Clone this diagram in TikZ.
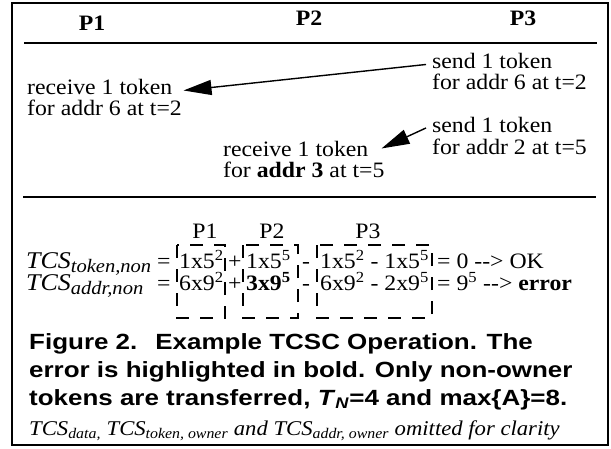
\documentclass[tikz,border=0pt]{standalone}
\usepackage{fontspec}
\setmainfont{Liberation Serif}[FakeStretch=1.08]
\newfontfamily\capfont{Liberation Sans}[FakeStretch=1.18]
\usetikzlibrary{arrows.meta}
\newcommand\arrowtxt{-{}-{}>}
\newcommand\lblsub[1]{\raisebox{-0.2em}{\fontsize{19}{19}\selectfont #1}}
\begin{document}
\begin{tikzpicture}[x=1pt,y=-1pt,
  txt/.style={inner sep=0pt, anchor=base west, font=\fontsize{22}{21.5}\selectfont},
  ptxt/.style={inner sep=0pt, anchor=base, font=\fontsize{22}{21.5}\selectfont},
  lbl/.style={inner sep=0pt, anchor=base west, font=\fontsize{24}{24}\selectfont\itshape},
  hdr/.style={inner sep=0pt, anchor=base, font=\fontsize{22}{22}\selectfont\bfseries},
  capt/.style={inner sep=0pt, anchor=base west, font=\capfont\fontsize{22}{28}\selectfont\bfseries},
  notetxt/.style={inner sep=0pt, anchor=base west, font=\fontsize{21}{21}\selectfont\itshape},
  rulel/.style={line width=2pt},
  arr/.style={line width=1.4pt, -{Triangle[length=28pt,width=15pt]}},
  dbox/.style={line width=2pt, dash pattern=on 13pt off 11pt}]
\useasboundingbox (0,0) rectangle (611,448);
\draw[rulel] (12,3) rectangle (608,445);
\draw[rulel] (24,43) -- (597,43);
\draw[rulel] (23,197) -- (596,197);
% headers
\node[hdr] (h1) at (92,30) {P1};
\node[hdr] (h2) at (309,25) {P2};
\node[hdr] (h3) at (523,25) {P3};
% messages
\node[txt] (s1a) at (432,68) {send 1 token};
\node[txt] (s1b) at (432,89.5) {for addr 6 at t=2};
\node[txt] (r1a) at (27,94) {receive 1 token};
\node[txt] (r1b) at (27,115.5) {for addr 6 at t=2};
\node[txt] (s2a) at (432,132.5) {send 1 token};
\node[txt] (s2b) at (432,154) {for addr 2 at t=5};
\node[txt] (r2a) at (223,156) {receive 1 token};
\node[txt] (r2b) at (223,177.5) {for \textbf{addr 3} at t=5};
\draw[arr] ([shift={(-6,4)}]s1a.west) -- ([shift={(11,4)}]r1a.east);
\draw[arr] ([shift={(-6,3)}]s2a.west) -- ([shift={(13,0)}]r2a.east);
% checksum formulas
\node[ptxt] (p1) at (205,238) {P1};
\node[ptxt] (p2) at (272,238) {P2};
\node[ptxt] (p3) at (368,238) {P3};
\draw[dbox] (177,245) rectangle (225,318);
\draw[dbox] (243,245) rectangle (298,318);
\draw[dbox] (317,245) rectangle (432,318);
\node[lbl] (f1l) at (26,268) {TCS\lblsub{token,non}};
\node[txt] (f1e) at (157,268) {=};
\node[txt] (f1a) at (179,268) {1x5\textsuperscript{2}};
\node[txt] (f1p) at (228,268) {+};
\node[txt] (f1b) at (246,268) {1x5\textsuperscript{5}};
\node[txt] (f1m) at (302,268) {-};
\node[txt] (f1c) at (320,268) {1x5\textsuperscript{2} - 1x5\textsuperscript{5}};
\node[txt] (f1r) at (437,268) {= 0 \arrowtxt{} OK};
\node[lbl] (f2l) at (26,290) {TCS\lblsub{addr,non}};
\node[txt] (f2e) at (157,290) {=};
\node[txt] (f2a) at (179,290) {6x9\textsuperscript{2}};
\node[txt] (f2p) at (228,290) {+};
\node[txt] (f2b) at (246,290) {\textbf{3x9\textsuperscript{5}}};
\node[txt] (f2m) at (302,290) {-};
\node[txt] (f2c) at (320,290) {6x9\textsuperscript{2} - 2x9\textsuperscript{5}};
\node[txt] (f2r) at (437,290) {= 9\textsuperscript{5} \arrowtxt{} \textbf{error}};
% caption
\node[capt] (c1) at (29,349) {Figure 2.\hspace{18pt}Example TCSC Operation. The};
\node[capt] (c2) at (29,377) {error is highlighted in bold. Only non-owner};
\node[capt] (c3) at (29,405) {tokens are transferred, \textit{T}\textsubscript{\textit{N}}=4 and max\{A\}=8.};
\node[notetxt] (c4) at (29,435) {TCS\textsubscript{data,} TCS\textsubscript{token, owner} and TCS\textsubscript{addr, owner} omitted for clarity};
\end{tikzpicture}
\end{document}
